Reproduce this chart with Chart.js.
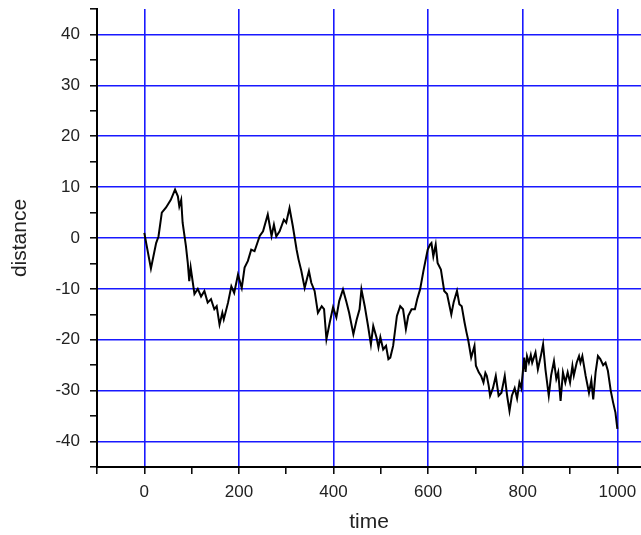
<!DOCTYPE html>
<html>
<head>
<meta charset="utf-8">
<script src="https://cdn.jsdelivr.net/npm/chart.js@4"></script>
<style>
  body { margin: 0; background: #fff; }
</style>
</head>
<body>
<canvas id="chart" width="641" height="535"></canvas>
<script>
// datos (paso de tiempo, distancia)
const tiempos = [0, 14, 25, 30, 37, 46, 56, 65, 71, 74, 78, 81, 88, 92, 95, 98, 106, 113, 120, 127,
  134, 141, 148, 153, 159, 165, 168, 177, 184, 190, 198, 206, 212, 219, 226, 233, 244, 251, 261, 269,
  274, 279, 286, 295, 300, 307, 314, 322, 326, 332, 339, 348, 353, 360, 367, 375, 380, 385, 392, 399,
  406, 412, 420, 427, 433, 442, 449, 455, 459, 466, 473, 479, 484, 491, 495, 499, 505, 511, 516, 520,
  526, 534, 541, 547, 553, 558, 565, 572, 577, 583, 590, 599, 604, 607, 611, 616, 620, 627, 634, 640,
  649, 654, 661, 666, 671, 677, 681, 685, 691, 698, 701, 707, 712, 717, 721, 724, 728, 731, 737, 743,
  749, 755, 762, 767, 772, 777, 783, 788, 793, 797, 803, 806, 809, 813, 817, 820, 827, 832, 838, 843,
  848, 855, 860, 866, 871, 875, 880, 885, 890, 895, 900, 905, 908, 914, 919, 922, 926, 933, 940, 945,
  949, 954, 959, 964, 970, 975, 980, 986, 991, 996, 1000];
const distancias = [1, -6, -1, 0.3, 5, 6, 7.5, 9.5, 8.2, 6.2, 7.5, 3, -1.6, -5, -8.5, -5.8, -11, -10, -11.5, -10.4,
  -12.7, -12, -14, -13.4, -17, -14.7, -16, -12.7, -9.5, -10.8, -7.2, -9.8, -5.8, -4.5, -2.3, -2.6, 0.4, 1.3, 4.6, 0.4,
  2.6, 0.3, 1.3, 3.6, 3, 5.9, 2.3, -2.3, -4.2, -6.5, -9.8, -6.5, -8.8, -10.4, -14.7, -13.4, -14, -19.9, -16.6, -13.6,
  -15.6, -12.4, -10.1, -12.5, -14.7, -18.9, -16, -14, -10.1, -13.4, -17.3, -20.9, -17.3, -19.6, -21.5, -19.5, -21.9, -21.2, -23.8, -23.5,
  -21.2, -15.3, -13.4, -14, -17.9, -15.3, -14, -14, -12, -10.1, -6.5, -2.3, -1.3, -1, -3.6, -1.3, -4.9, -6.2, -10.4, -11,
  -15, -12.6, -10.4, -13, -13.4, -16.6, -18.5, -20.2, -23.5, -21.2, -25.1, -26.4, -27.1, -28.4, -26.5, -27.1, -29, -31, -29.5, -27.1,
  -31, -30.4, -27.1, -31, -34, -31, -29.5, -31.5, -28.4, -29.5, -23.5, -26.3, -23.2, -24.5, -23, -24.5, -22.5, -25.8, -23.3, -20.9,
  -25.8, -31, -27, -24.2, -27.7, -26.4, -32, -26.4, -28.4, -26.4, -28.4, -25.1, -27, -24.5, -23.2, -24.5, -23.2, -27.1, -30.4, -28,
  -31.7, -26.4, -23.2, -23.8, -25, -24.5, -26.1, -30, -32.3, -34.3, -37.5];

const AZUL = 'rgb(25,25,255)';
const fuente = 'Liberation Sans, Arial, sans-serif';

const esMayorX = v => v % 200 === 0 && v >= 0 && v <= 1000;
const esMayorY = v => v % 10 === 0 && Math.abs(v) <= 40;

const puntos = tiempos.map((t, i) => ({ x: t, y: distancias[i] }));

// quitar el relleno automatico que Chart.js deja para las etiquetas
function sinRelleno(s) {
    s.paddingTop = 0;
    s.paddingBottom = 0;
    s.paddingLeft = 0;
    s.paddingRight = 0;
}

new Chart(document.getElementById('chart'), {
    type: 'line',
    data: {
        datasets: [{
            data: puntos,
            borderColor: '#000',
            borderWidth: 2,
            pointRadius: 0,
            tension: 0,
            fill: false
        }]
    },
    options: {
        responsive: false,
        animation: false,
        layout: { padding: { top: 9, right: 0, left: 0, bottom: 0 } },
        plugins: {
            legend: { display: false },
            tooltip: { enabled: false }
        },
        scales: {
            x: {
                type: 'linear',
                min: -100,
                max: 1050,
                afterFit: s => { s.height = 68; sinRelleno(s); },
                border: { color: '#000', width: 2 },
                grid: {
                    color: c => esMayorX(c.tick.value) ? AZUL : 'rgba(0,0,0,0)',
                    tickColor: '#000',
                    lineWidth: 1.6,
                    tickLength: 7,
                    tickWidth: 1.5
                },
                ticks: {
                    stepSize: 100,
                    includeBounds: false,
                    autoSkip: false,
                    maxRotation: 0,
                    padding: 8,
                    color: '#222',
                    font: { family: fuente, size: 17 },
                    callback: v => esMayorX(v) ? String(v) : ''
                },
                title: {
                    display: true,
                    text: 'time',
                    color: '#222',
                    font: { family: fuente, size: 21 },
                    padding: { top: 0, bottom: 0 }
                }
            },
            y: {
                min: -45,
                max: 45,
                afterFit: s => { s.width = 97; sinRelleno(s); },
                border: { color: '#000', width: 2 },
                grid: {
                    color: c => esMayorY(c.tick.value) ? AZUL : 'rgba(0,0,0,0)',
                    tickColor: '#000',
                    lineWidth: 1.6,
                    tickLength: 7,
                    tickWidth: 1.5
                },
                ticks: {
                    stepSize: 5,
                    autoSkip: false,
                    padding: 10,
                    color: '#222',
                    font: { family: fuente, size: 17 },
                    callback: v => esMayorY(v) ? String(v) : ''
                },
                title: {
                    display: true,
                    text: 'distance',
                    color: '#222',
                    font: { family: fuente, size: 21 },
                    padding: { top: 8, bottom: 0 }
                }
            }
        }
    }
});
</script>
</body>
</html>
